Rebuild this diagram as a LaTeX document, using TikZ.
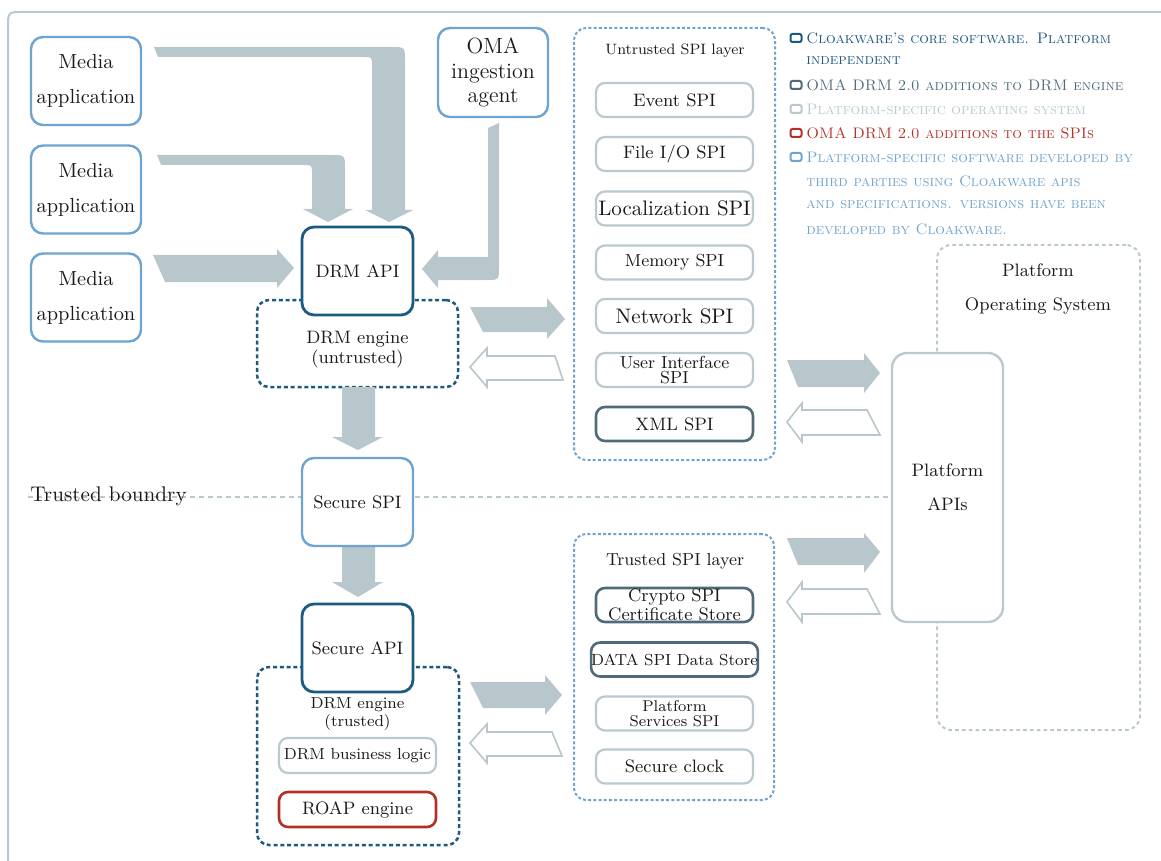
\documentclass[tikz,border=0pt]{standalone}
\usetikzlibrary{calc}
\definecolor{lb}{HTML}{6EA4CF}
\definecolor{db}{HTML}{1D5A80}
\definecolor{sl}{HTML}{4F6B79}
\definecolor{lg}{HTML}{B9C9CE}
\definecolor{rd}{HTML}{B52F26}
\definecolor{ag}{HTML}{B8C7CC}
\definecolor{tx}{HTML}{1A1A1A}
\newcommand{\fsz}[2]{\fontsize{#1}{#2}\selectfont}
\tikzset{
  box/.style={draw, fill=white, rounded corners=6pt, line width=1.2pt, inner sep=0pt, align=center, text=tx},
  lbbox/.style={box, draw=lb, minimum width=55pt, minimum height=44pt},
  dbbox/.style={box, draw=db, line width=1.4pt, minimum width=55.5pt, minimum height=44pt},
  spibox/.style={box, draw=lg, rounded corners=4.5pt, line width=1.1pt, minimum width=78.5pt, minimum height=17pt},
  slbox/.style={spibox, draw=sl, line width=1.3pt},
  redbox/.style={spibox, draw=rd, line width=1.3pt},
  engine/.style={draw=db, line width=1.25pt, dash pattern=on 2pt off 1.4pt, rounded corners=6pt, inner sep=0pt},
  layer/.style={draw=lb, line width=1pt, dash pattern=on 1.5pt off 1.1pt, rounded corners=6pt, inner sep=0pt},
  osbox/.style={draw=lg, line width=1pt, dash pattern=on 1.8pt off 1.6pt, rounded corners=7pt, inner sep=0pt},
  hollowarrow/.style={draw=ag, fill=white, line width=0.8pt, line join=miter},
  lbl/.style={inner sep=0pt, align=center, text=tx},
  legsq/.style={draw, line width=1pt, rounded corners=1pt, minimum width=5.5pt, minimum height=4pt, inner sep=0pt},
  legtx/.style={anchor=west, inner sep=0pt, font=\fsz{7.6}{10}\scshape},
}
\begin{document}
\begin{tikzpicture}[x=0.5pt,y=-0.5pt]
\useasboundingbox (0,0) rectangle (1161,861);
% outer frame
\draw[lg, line width=1pt] (8,861) -- (8,27) .. controls (8,12) .. (23,12) -- (1161,12);

% containers
\node[engine, minimum width=100.5pt, minimum height=43.5pt] (enguntr) at (357.5,343.5) {};
\node[engine, minimum width=101pt, minimum height=89pt] (engtr) at (358,756) {};
\node[layer, minimum width=100.5pt, minimum height=216pt] (ulayer) at (674.5,244) {};
\node[layer, minimum width=100pt, minimum height=133pt] (tlayer) at (674,667) {};
\node[osbox, minimum width=101.5pt, minimum height=242.5pt] (pos) at (1038.5,487.5) {};

% trusted boundary
\coordinate (tbstart) at (28,497);
\coordinate (tbend) at (892,497);
\draw[lg, line width=1pt, dash pattern=on 2.5pt off 2pt] (tbstart) -- (tbend);

% big arrows from media applications
\fill[ag] (154,47) -- (391,47) .. controls (405,47) .. (405,61) -- (405,210) -- (413,210) -- (389,222) -- (365,210) -- (372,210) -- (372,66) .. controls (372,57) .. (363,57) -- (158,57) -- cycle;
\fill[ag] (157,155) -- (331,155) .. controls (345,155) .. (345,169) -- (345,209) -- (353,209) -- (328,222) -- (303,209) -- (312,209) -- (312,173) .. controls (312,165) .. (304,165) -- (161,165) -- cycle;
\fill[ag] (153,255) -- (277,255) -- (277,249) -- (294,268) -- (277,288) -- (277,282) -- (165,282) -- cycle;
% OMA arrow
\fill[ag] (488,128) -- (499,123) -- (499,267) .. controls (499,280) .. (486,280) -- (438,280) -- (438,288) -- (422,269) -- (438,250) -- (438,257) -- (488,257) -- cycle;
% down arrows
\fill[ag] (342,387) -- (375,387) -- (375,437) -- (383,437) -- (358,450) -- (332,437) -- (342,437) -- cycle;
\fill[ag] (342,546) -- (375,546) -- (375,582) -- (383,582) -- (358,597) -- (332,582) -- (342,582) -- cycle;
% right/left pairs
\fill[ag] (470,307) -- (547,307) -- (547,298) -- (565,319) -- (547,339) -- (547,332) -- (483,332) -- cycle;
\draw[hollowarrow] (470,367) -- (487,348) -- (487,356) -- (555,356) -- (563,380) -- (487,380) -- (487,387) -- cycle;
\fill[ag] (787,360) -- (864,360) -- (864,353) -- (880,373) -- (864,393) -- (864,387) -- (798,387) -- cycle;
\draw[hollowarrow] (787,422) -- (802,403) -- (802,410) -- (867,410) -- (880,435) -- (802,435) -- (802,442) -- cycle;
\fill[ag] (787,538) -- (864,538) -- (864,533) -- (880,552) -- (864,573) -- (864,565) -- (798,565) -- cycle;
\draw[hollowarrow] (787,602) -- (802,582) -- (802,589) -- (867,589) -- (880,614) -- (802,614) -- (802,622) -- cycle;
\fill[ag] (470,682) -- (545,682) -- (545,675) -- (562,695) -- (545,715) -- (545,708) -- (483,708) -- cycle;
\draw[hollowarrow] (470,743) -- (487,724) -- (487,732) -- (552,732) -- (562,756) -- (487,756) -- (487,763) -- cycle;

% media applications
\node[lbbox, font=\fsz{10.2}{17.5}] (m1) at (86,81) {Media\\application};
\node[lbbox, font=\fsz{10.2}{17.5}] (m2) at (86,189.5) {Media\\application};
\node[lbbox, font=\fsz{10.2}{17.5}] (m3) at (86,297.5) {Media\\application};
\node[lbbox, minimum height=44.5pt, font=\fsz{11}{12.2}] (oma) at (493,72.5) {OMA\\ingestion\\agent};

% DRM column
\node[dbbox, font=\fsz{9}{11}] (drmapi) at (357.5,271) {DRM API};
\node[lbl, font=\fsz{9}{10}] (engutxt) at (357.5,350) {DRM engine\\(untrusted)};
\node[lbbox, minimum width=55.5pt, font=\fsz{9}{11}] (secspi) at (357.5,502) {Secure SPI};
\node[dbbox, font=\fsz{9}{11}] (secapi) at (357.5,648) {Secure API};
\node[lbl, font=\fsz{8}{7}] (engttxt) at (357.5,714) {DRM engine\\(trusted)};
\node[spibox, minimum height=17.5pt, font=\fsz{8}{9}] (biz) at (357.5,755.5) {DRM business logic};
\node[redbox, minimum height=17.5pt, font=\fsz{9}{10}] (roap) at (357.5,809.5) {ROAP engine};

% untrusted SPI layer
\node[lbl, font=\fsz{7.5}{9}] (utitle) at (675,51) {Untrusted SPI layer};
\node[spibox, font=\fsz{9}{10}] (ev) at (674.5,100) {Event SPI};
\node[spibox, font=\fsz{9}{10}] (fio) at (674.5,154) {File I/O SPI};
\node[spibox, font=\fsz{10.5}{11}] (loc) at (674.5,208.5) {Localization SPI};
\node[spibox, font=\fsz{8.7}{10}] (mem) at (674.5,262.5) {Memory SPI};
\node[spibox, font=\fsz{10.5}{11}] (net) at (674.5,316) {Network SPI};
\node[spibox, font=\fsz{8.7}{7.2}] (ui) at (674.5,370) {User Interface\\SPI};
\node[slbox, font=\fsz{9}{10}] (xml) at (674.5,424) {XML SPI};

% trusted SPI layer
\node[lbl, font=\fsz{8.7}{10}] (ttitle) at (675,561) {Trusted SPI layer};
\node[slbox, font=\fsz{9}{7.5}] (crypto) at (674.5,605) {Crypto SPI\\Certificate Store};
\node[slbox, font=\fsz{8}{9}] (data) at (674.5,659.5) {DATA SPI Data Store};
\node[spibox, font=\fsz{7.8}{7.5}] (pserv) at (674.5,713.5) {Platform\\Services SPI};
\node[spibox, font=\fsz{9}{10}] (clock) at (674.5,766.5) {Secure clock};

% platform
\node[lbl, font=\fsz{9}{17}] (postxt) at (1038,289) {Platform\\Operating System};
\node[box, draw=lg, rounded corners=7.5pt, minimum width=55.5pt, minimum height=134.5pt, font=\fsz{9}{17}] (papi) at (947.5,487.5) {Platform\\APIs};

% trusted boundary label
\node[lbl, anchor=west, font=\fsz{10.6}{12}] (tb) at (30,496) {Trusted boundry};

% legend
\node[legsq, draw=db] (s1) at (796,38) {};
\node[legtx, text=db] (l1) at (806,38) {Cloakware's core software. Platform};
\node[legtx, text=db] (l1b) at (806,61) {independent};
\node[legsq, draw=sl] (s2) at (796,85) {};
\node[legtx, text=sl] (l2) at (806,85) {OMA DRM 2.0 additions to DRM engine};
\node[legsq, draw=lg] (s3) at (796,109) {};
\node[legtx, text=lg] (l3) at (806,109) {Platform-specific operating system};
\node[legsq, draw=rd] (s4) at (796,133) {};
\node[legtx, text=rd] (l4) at (806,133) {OMA DRM 2.0 additions to the SPIs};
\node[legsq, draw=lb] (s5) at (796,157) {};
\node[legtx, text=lb] (l5) at (806,157) {Platform-specific software developed by};
\node[legtx, text=lb] (l6) at (806,181) {third parties using Cloakware apis};
\node[legtx, text=lb] (l7) at (806,205) {and specifications. versions have been};
\node[legtx, text=lb] (l8) at (806,229) {developed by Cloakware.};
\end{tikzpicture}
\end{document}
